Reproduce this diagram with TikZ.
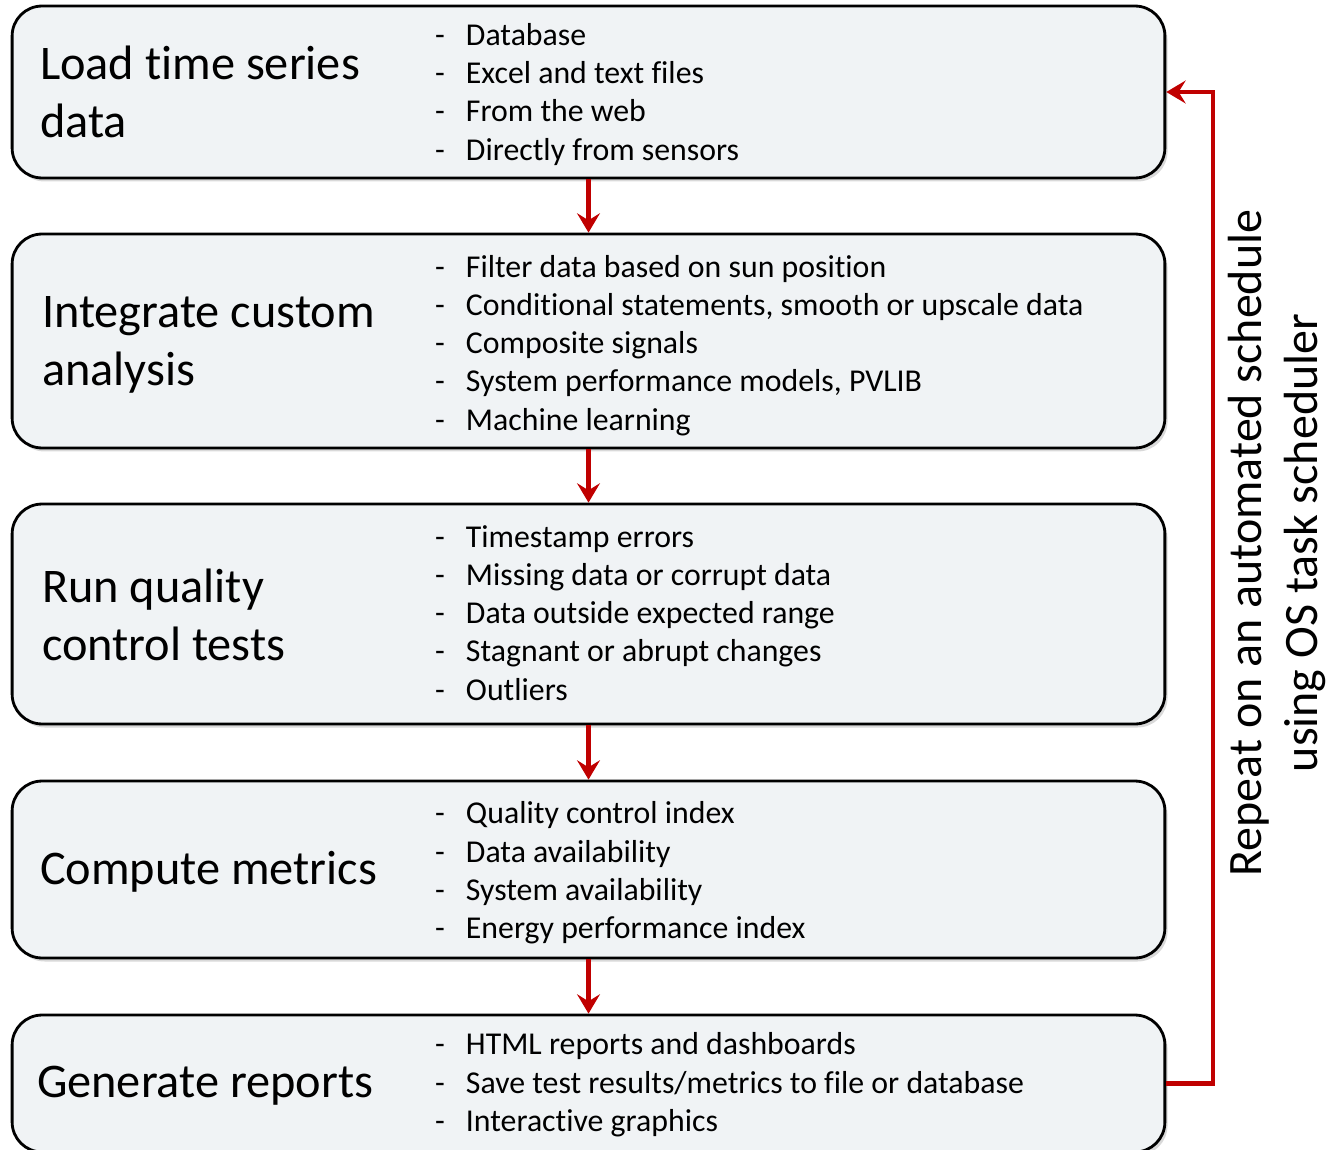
\documentclass[tikz,border=0pt]{standalone}
\usepackage{fontspec}
\setmainfont{Carlito}[Ligatures=NoCommon]
\usepackage{xcolor}
\usetikzlibrary{calc, positioning, shadows, arrows.meta}

\definecolor{boxfill}{RGB}{240,243,245}
\definecolor{flowred}{RGB}{192,0,0}

\tikzset{
  stage/.style={draw=black, line width=1.6pt, fill=boxfill, rounded corners=0.6cm,
    minimum width=23.06cm, inner sep=0pt,
    drop shadow={opacity=0.3, shadow xshift=1.5pt, shadow yshift=-2pt}},
  stagetitle/.style={anchor=west, align=left, inner sep=0pt, font=\fontsize{27.5}{33}\selectfont},
  stagelist/.style={anchor=west, inner sep=0pt, font=\fontsize{18.1}{21.8}\selectfont},
  flow/.style={draw=flowred, line width=2.3pt, -{Stealth[length=11pt, width=13pt, inset=4pt]}},
}
\newcommand{\stageitems}[1]{\begin{tabular}{@{}p{17.6pt}@{}l@{}}#1\end{tabular}}

\begin{document}
\begin{tikzpicture}[x=0.02cm, y=-0.02cm]
  \useasboundingbox (0,0) rectangle (1331,1149);

  % stages
  \node[stage, minimum height=3.44cm] (load) at (588.5,92) {};
  \node[stage, minimum height=4.28cm] (custom) at (588.5,341) {};
  \node[stage, minimum height=4.40cm] (qc) at (588.5,614) {};
  \node[stage, minimum height=3.54cm] (metrics) at (588.5,869.5) {};
  \node[stage, minimum height=2.74cm] (reports) at (588.5,1083.5) {};

  % titles
  \node[stagetitle] (loadT) at ($(load.west)+(29,0)$) {Load time series\\data};
  \node[stagetitle] (customT) at ($(custom.west)+(31,4)$) {Integrate custom\\analysis};
  \node[stagetitle] (qcT) at ($(qc.west)+(31,1)$) {Run quality\\control tests};
  \node[stagetitle] (metricsT) at ($(metrics.west)+(29,2)$) {Compute metrics};
  \node[stagetitle] (reportsT) at ($(reports.west)+(26,2)$) {Generate reports};

  % item lists
  \node[stagelist] (loadL) at ($(load.west)+(424,3)$) {\stageitems{
    - & Database\\
    - & Excel and text files\\
    - & From the web\\
    - & Directly from sensors}};
  \node[stagelist] (customL) at ($(custom.west)+(424,5)$) {\stageitems{
    - & Filter data based on sun position\\
    - & Conditional statements, smooth or upscale data\\
    - & Composite signals\\
    - & System performance models, PVLIB\\
    - & Machine learning}};
  \node[stagelist] (qcL) at ($(qc.west)+(424,2)$) {\stageitems{
    - & Timestamp errors\\
    - & Missing data or corrupt data\\
    - & Data outside expected range\\
    - & Stagnant or abrupt changes\\
    - & Outliers}};
  \node[stagelist] (metricsL) at ($(metrics.west)+(424,4)$) {\stageitems{
    - & Quality control index\\
    - & Data availability\\
    - & System availability\\
    - & Energy performance index}};
  \node[stagelist] (reportsL) at ($(reports.west)+(424,2)$) {\stageitems{
    - & HTML reports and dashboards\\
    - & Save test results/metrics to file or database\\
    - & Interactive graphics}};

  % flow
  \draw[flow] (load) -- (custom);
  \draw[flow] (custom) -- (qc);
  \draw[flow] (qc) -- (metrics);
  \draw[flow] (metrics) -- (reports);
  \draw[flow] (reports.east) -- ++(47,0) coordinate (turn) |- (load.east);

  \node[rotate=90, align=center, inner sep=0pt, font=\fontsize{27.3}{32.3}\selectfont]
    (repeat) at (1277,543) {Repeat on an automated schedule\\using OS task scheduler};
\end{tikzpicture}
\end{document}
